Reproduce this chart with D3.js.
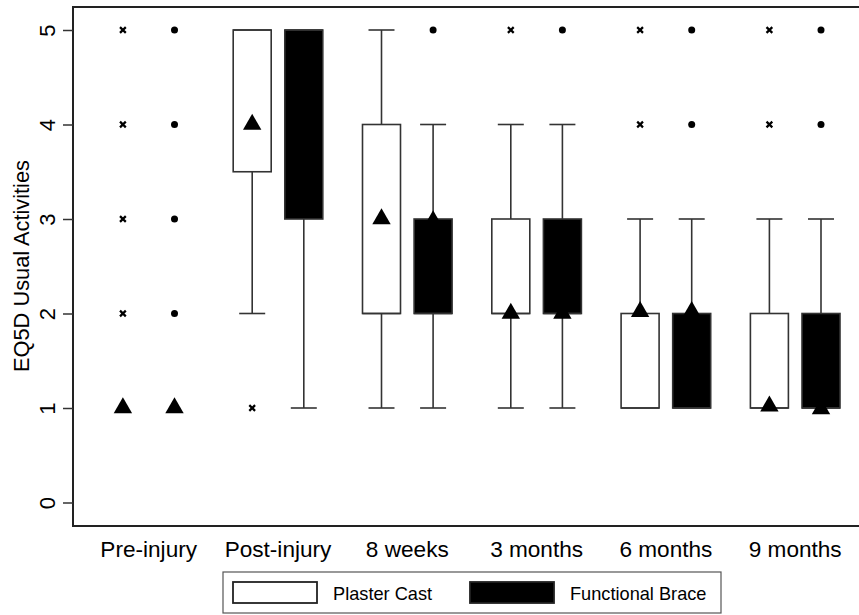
<!DOCTYPE html>
<html>
<head>
<meta charset="utf-8">
<script src="https://cdn.jsdelivr.net/npm/d3@7"></script>
<style>
  html, body { margin: 0; padding: 0; background: #fff; }
  svg { display: block; font-family: "Liberation Sans", Arial, sans-serif; }
</style>
</head>
<body>
<svg id="chart" width="859" height="615"></svg>
<script>
// Time points and treatment groups
const categories = ["Pre-injury", "Post-injury", "8 weeks", "3 months", "6 months", "9 months"];
const series = ["Plaster Cast", "Functional Brace"];
const yTicks = [0, 1, 2, 3, 4, 5];

// Plaster Cast box statistics
const castLow     = [1, 2, 1, 1, 1, 1];
const castQ1      = [1, 3.5, 2, 2, 1, 1];
const castMedian  = [1, 5, 2, 2, 1, 1];
const castQ3      = [1, 5, 4, 3, 2, 2];
const castHigh    = [1, 5, 5, 4, 3, 3];
const castMean    = [1.0, 4.0, 3.0, 2.0, 2.02, 1.02];
const castOutliers = [[2, 3, 4, 5], [1], [], [5], [4, 5], [4, 5]];

// Functional Brace box statistics
const braceLow     = [1, 1, 1, 1, 1, 1];
const braceQ1      = [1, 3, 2, 2, 1, 1];
const braceMedian  = [1, 5, 2, 2, 1, 1];
const braceQ3      = [1, 5, 3, 3, 2, 2];
const braceHigh    = [1, 5, 4, 4, 3, 3];
const braceMean    = [1.0, 3.9, 2.98, 2.0, 2.02, 0.99];
const braceOutliers = [[2, 3, 4, 5], [], [5], [5], [4, 5], [4, 5]];

const svg = d3.select("#chart");
svg.append("rect").attr("width", 859).attr("height", 615).attr("fill", "#fff");

const frame = { left: 73, top: 7, bottom: 526, right: 875 };
const ink = "#333";

const y = d3.scaleLinear().domain([0, 5]).range([502.5, 30]);
const x = d3.scalePoint().domain(categories).range([148.7, 795.2]);
const sub = d3.scalePoint().domain(series).range([-25.8, 25.8]);

const boxW = 38, capW = 26;

const groups = [
  { name: series[0], fill: "#fff", low: castLow, q1: castQ1, med: castMedian, q3: castQ3, high: castHigh, mean: castMean, out: castOutliers, marker: "x" },
  { name: series[1], fill: "#000", low: braceLow, q1: braceQ1, med: braceMedian, q3: braceQ3, high: braceHigh, mean: braceMean, out: braceOutliers, marker: "dot" }
];

// Plot region outline (left, top, bottom)
svg.append("path")
  .attr("d", `M${frame.right},${frame.top}H${frame.left}V${frame.bottom}H${frame.right}`)
  .attr("fill", "none").attr("stroke", "#222").attr("stroke-width", 2);

// Y axis
const yAxis = svg.append("g")
  .attr("transform", `translate(${frame.left},0)`)
  .call(d3.axisLeft(y).tickValues(yTicks).tickSize(10).tickFormat(d3.format("d")));
yAxis.select(".domain").remove();
yAxis.selectAll(".tick line").attr("stroke", ink).attr("stroke-width", 1.5);
yAxis.selectAll(".tick text")
  .attr("x", null).attr("dy", null)
  .attr("transform", "translate(-18,0) rotate(-90)")
  .attr("text-anchor", "middle")
  .attr("font-size", 22)
  .attr("fill", "#000");

svg.append("text")
  .attr("transform", "translate(28.5,266) rotate(-90)")
  .attr("text-anchor", "middle")
  .attr("font-size", 21.8)
  .attr("fill", "#000")
  .text("EQ5D Usual Activities");

// Category labels
svg.append("g").selectAll("text")
  .data(categories)
  .join("text")
  .attr("x", d => x(d))
  .attr("y", 557)
  .attr("text-anchor", "middle")
  .attr("font-size", 22.6)
  .attr("fill", "#000")
  .text(d => d);

// Boxes, whiskers, outliers and means
groups.forEach(g => {
  const layer = svg.append("g");
  categories.forEach((c, i) => {
    const cx = x(c) + sub(g.name);
    if (g.q3[i] > g.q1[i]) {
      // whiskers
      if (g.high[i] > g.q3[i]) {
        layer.append("line").attr("x1", cx).attr("x2", cx)
          .attr("y1", y(g.q3[i])).attr("y2", y(g.high[i]))
          .attr("stroke", ink).attr("stroke-width", 1.6);
        layer.append("line").attr("x1", cx - capW / 2).attr("x2", cx + capW / 2)
          .attr("y1", y(g.high[i])).attr("y2", y(g.high[i]))
          .attr("stroke", ink).attr("stroke-width", 1.6);
      }
      if (g.low[i] < g.q1[i]) {
        layer.append("line").attr("x1", cx).attr("x2", cx)
          .attr("y1", y(g.q1[i])).attr("y2", y(g.low[i]))
          .attr("stroke", ink).attr("stroke-width", 1.6);
        layer.append("line").attr("x1", cx - capW / 2).attr("x2", cx + capW / 2)
          .attr("y1", y(g.low[i])).attr("y2", y(g.low[i]))
          .attr("stroke", ink).attr("stroke-width", 1.6);
      }
      // box
      layer.append("rect")
        .attr("x", cx - boxW / 2).attr("width", boxW)
        .attr("y", y(g.q3[i])).attr("height", y(g.q1[i]) - y(g.q3[i]))
        .attr("fill", g.fill).attr("stroke", ink).attr("stroke-width", 1.6);
      // median
      layer.append("line").attr("x1", cx - boxW / 2).attr("x2", cx + boxW / 2)
        .attr("y1", y(g.med[i])).attr("y2", y(g.med[i]))
        .attr("stroke", ink).attr("stroke-width", 1.6);
    }
    // outliers
    g.out[i].forEach(v => {
      if (g.marker === "x") {
        const s = 2.9;
        layer.append("path")
          .attr("d", `M${cx - s},${y(v) - s}L${cx + s},${y(v) + s}M${cx - s},${y(v) + s}L${cx + s},${y(v) - s}`)
          .attr("stroke", "#000").attr("stroke-width", 2.2);
      } else {
        layer.append("circle").attr("cx", cx).attr("cy", y(v)).attr("r", 3.5).attr("fill", "#000");
      }
    });
    // mean marker (triangle centred on its centroid)
    const h = 16, w = 18.4, my = y(g.mean[i]);
    layer.append("path")
      .attr("d", `M${cx},${my - 2 * h / 3}L${cx + w / 2},${my + h / 3}L${cx - w / 2},${my + h / 3}Z`)
      .attr("fill", "#000");
  });
});

// Legend
const legend = svg.append("g");
legend.append("rect").attr("x", 223).attr("y", 572).attr("width", 498).attr("height", 41)
  .attr("fill", "#fff").attr("stroke", "#555").attr("stroke-width", 1.2);
const keys = [
  { name: series[0], fill: "#fff", kx: 233, tx: 333 },
  { name: series[1], fill: "#000", kx: 470, tx: 570 }
];
keys.forEach(k => {
  legend.append("rect").attr("x", k.kx).attr("y", 582).attr("width", 84).attr("height", 21)
    .attr("fill", k.fill).attr("stroke", "#222").attr("stroke-width", 1.8);
  legend.append("text").attr("x", k.tx).attr("y", 599.5)
    .attr("font-size", 18.2).attr("fill", "#000").text(k.name);
});
</script>
</body>
</html>
